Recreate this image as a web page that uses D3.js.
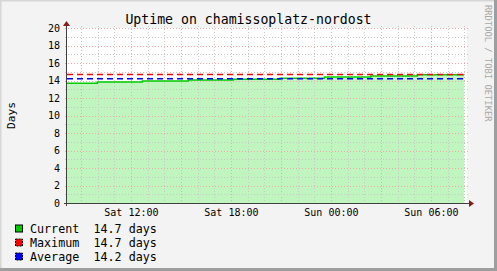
<!DOCTYPE html>
<html>
<head>
<meta charset="utf-8">
<script src="https://cdn.jsdelivr.net/npm/d3@7"></script>
<style>
  body { margin: 0; background: #f3f3f3; }
  svg { display: block; font-family: "DejaVu Sans Mono", monospace; }
</style>
</head>
<body>
<div id="chart-area"><svg></svg></div>
<script>
const chartSize = { width: 497, height: 271 };
const plot = { left: 67, right: 467, top: 28, bottom: 203 };

const title = "Uptime on chamissoplatz-nordost";
const yLabel = "Days";
const watermark = "RRDTOOL / TOBI OETIKER";

// uptime samples (step after), days
const times = [
  "2010-01-09 08:10", "2010-01-09 09:59", "2010-01-09 12:41",
  "2010-01-09 15:27", "2010-01-09 18:09", "2010-01-09 20:57",
  "2010-01-09 23:36", "2010-01-10 02:23", "2010-01-10 05:11",
  "2010-01-10 08:00"
];
const uptime = [13.68, 13.83, 13.94, 14.06, 14.14, 14.25, 14.4, 14.51, 14.66, 14.66];

const startTime = "2010-01-09 08:10";
const endTime = "2010-01-10 08:10";
const maximum = 14.7;
const average = 14.2;

const legendNames = ["Current", "Maximum", "Average"];
const legendValues = ["14.7 days", "14.7 days", "14.2 days"];
const legendColors = ["#00cc00", "#ff0000", "#0000ff"];

const yTicks = [0, 2, 4, 6, 8, 10, 12, 14, 16, 18, 20];

const parseTime = d3.timeParse("%Y-%m-%d %H:%M");

const main = function() {
  const svg = d3
    .select("#chart-area svg")
    .attr("width", chartSize.width)
    .attr("height", chartSize.height);

  // frame
  svg.append("rect").attr("width", chartSize.width).attr("height", chartSize.height).attr("fill", "#f3f3f3");
  svg.append("path")
    .attr("d", `M0,${chartSize.height}V0H${chartSize.width}`)
    .attr("fill", "none").attr("stroke", "#d6d6d6").attr("stroke-width", 3);
  svg.append("path")
    .attr("d", `M0,${chartSize.height - 1.5}H${chartSize.width - 1.5}V0`)
    .attr("fill", "none").attr("stroke", "#9e9e9e").attr("stroke-width", 3);

  const x = d3
    .scaleTime()
    .domain([parseTime(startTime), parseTime(endTime)])
    .range([plot.left, plot.right]);

  const y = d3.scaleLinear().domain([0, 20]).range([plot.bottom, plot.top]);

  svg.append("rect")
    .attr("x", plot.left).attr("y", plot.top)
    .attr("width", plot.right - plot.left).attr("height", plot.bottom - plot.top)
    .attr("fill", "#ffffff");

  const data = times.map((t, i) => ({ time: parseTime(t), value: uptime[i] }));

  svg.append("path")
    .datum(data)
    .attr("fill", "#c0f5c0")
    .attr("d", d3.area().curve(d3.curveStepAfter).x(d => x(d.time)).y0(y(0)).y1(d => y(d.value)));

  // grid
  const grid = svg.append("g").attr("shape-rendering", "crispEdges");
  const hours = x.ticks(d3.timeHour.every(1));
  hours.forEach(h => {
    const major = h.getHours() % 3 === 0;
    const px = Math.round(x(h)) + 0.5;
    grid.append("line")
      .attr("x1", px).attr("x2", px)
      .attr("y1", plot.top - 2).attr("y2", plot.bottom + (major ? 3 : 0))
      .attr("stroke", major ? "#f2a8a8" : "#c8c8c8")
      .attr("stroke-dasharray", "1,2");
  });
  d3.range(0, 21).forEach(v => {
    const major = v % 2 === 0;
    const py = Math.round(y(v)) + 0.5;
    grid.append("line")
      .attr("x1", plot.left - 2).attr("x2", plot.right + 2)
      .attr("y1", py).attr("y2", py)
      .attr("stroke", major ? "#f2a8a8" : "#c8c8c8")
      .attr("stroke-dasharray", "1,2");
  });

  // lines
  svg.append("path")
    .datum(data)
    .attr("fill", "none")
    .attr("stroke", "#00cc00")
    .attr("stroke-width", 1.4)
    .attr("d", d3.line().curve(d3.curveStepAfter).x(d => x(d.time)).y(d => y(d.value)));

  svg.append("line")
    .attr("x1", plot.left).attr("x2", plot.right)
    .attr("y1", y(maximum)).attr("y2", y(maximum))
    .attr("stroke", "#ff0000").attr("stroke-width", 1.5).attr("stroke-dasharray", "6,4");
  svg.append("line")
    .attr("x1", plot.left).attr("x2", plot.right)
    .attr("y1", y(average)).attr("y2", y(average))
    .attr("stroke", "#0000ff").attr("stroke-width", 1.5).attr("stroke-dasharray", "6,4");

  // axes
  svg.append("line")
    .attr("x1", plot.left - 3).attr("x2", plot.right + 3)
    .attr("y1", plot.bottom + 0.5).attr("y2", plot.bottom + 0.5)
    .attr("stroke", "#404040");
  svg.append("line")
    .attr("x1", plot.left - 0.5).attr("x2", plot.left - 0.5)
    .attr("y1", plot.bottom + 3).attr("y2", plot.top - 4)
    .attr("stroke", "#404040");
  svg.append("path")
    .attr("d", `M${plot.right + 2},${plot.bottom - 3}L${plot.right + 7},${plot.bottom + 0.5}L${plot.right + 2},${plot.bottom + 4}Z`)
    .attr("fill", "#8b1a1a");
  svg.append("path")
    .attr("d", `M${plot.left - 4},${plot.top - 2}L${plot.left - 0.5},${plot.top - 7}L${plot.left + 3},${plot.top - 2}Z`)
    .attr("fill", "#8b1a1a");

  const xAxis = d3
    .axisBottom(x)
    .tickValues(x.ticks(d3.timeHour.every(6)).filter(d => d.getHours() % 6 === 0))
    .tickFormat(d3.timeFormat("%a %H:%M"))
    .tickSize(0);
  svg.append("g")
    .attr("class", "x-axis")
    .attr("transform", `translate(0,${plot.bottom})`)
    .call(xAxis)
    .call(g => g.select(".domain").remove())
    .selectAll("text")
    .attr("dy", null)
    .attr("y", 12.5)
    .attr("font-family", "DejaVu Sans Mono")
    .attr("font-size", 10)
    .attr("fill", "#000");

  const yAxis = d3.axisLeft(y).tickValues(yTicks).tickSize(0);
  svg.append("g")
    .attr("class", "y-axis")
    .attr("transform", `translate(${plot.left},0)`)
    .call(yAxis)
    .call(g => g.select(".domain").remove())
    .selectAll("text")
    .attr("x", -7)
    .attr("font-family", "DejaVu Sans Mono")
    .attr("font-size", 10)
    .attr("fill", "#000");

  // texts
  svg.append("text")
    .attr("x", 248.5).attr("y", 24)
    .attr("text-anchor", "middle")
    .attr("font-size", 13.2)
    .attr("fill", "#000")
    .text(title);

  svg.append("text")
    .attr("transform", `translate(14.5,${(plot.top + plot.bottom) / 2}) rotate(-90)`)
    .attr("text-anchor", "middle")
    .attr("font-size", 11.3)
    .attr("fill", "#000")
    .text(yLabel);

  svg.append("text")
    .attr("transform", "translate(484.5,5) rotate(90)")
    .attr("font-size", 8.8)
    .attr("fill", "#a8a8a8")
    .text(watermark);

  // legend
  const legend = svg.append("g");
  legendNames.forEach((name, i) => {
    const base = 232.5 + i * 14;
    legend.append("rect")
      .attr("x", 15.5).attr("y", base - 7.5)
      .attr("width", 7).attr("height", 7)
      .attr("fill", legendColors[i])
      .attr("stroke", "#000")
      .attr("stroke-dasharray", i === 0 ? null : "2,1");
    legend.append("text")
      .attr("x", 30).attr("y", base)
      .attr("font-size", 11.7)
      .attr("fill", "#000")
      .text(name);
    legend.append("text")
      .attr("x", 93.5).attr("y", base)
      .attr("font-size", 11.7)
      .attr("fill", "#000")
      .text(legendValues[i]);
  });
};

window.onload = main;
</script>
</body>
</html>
